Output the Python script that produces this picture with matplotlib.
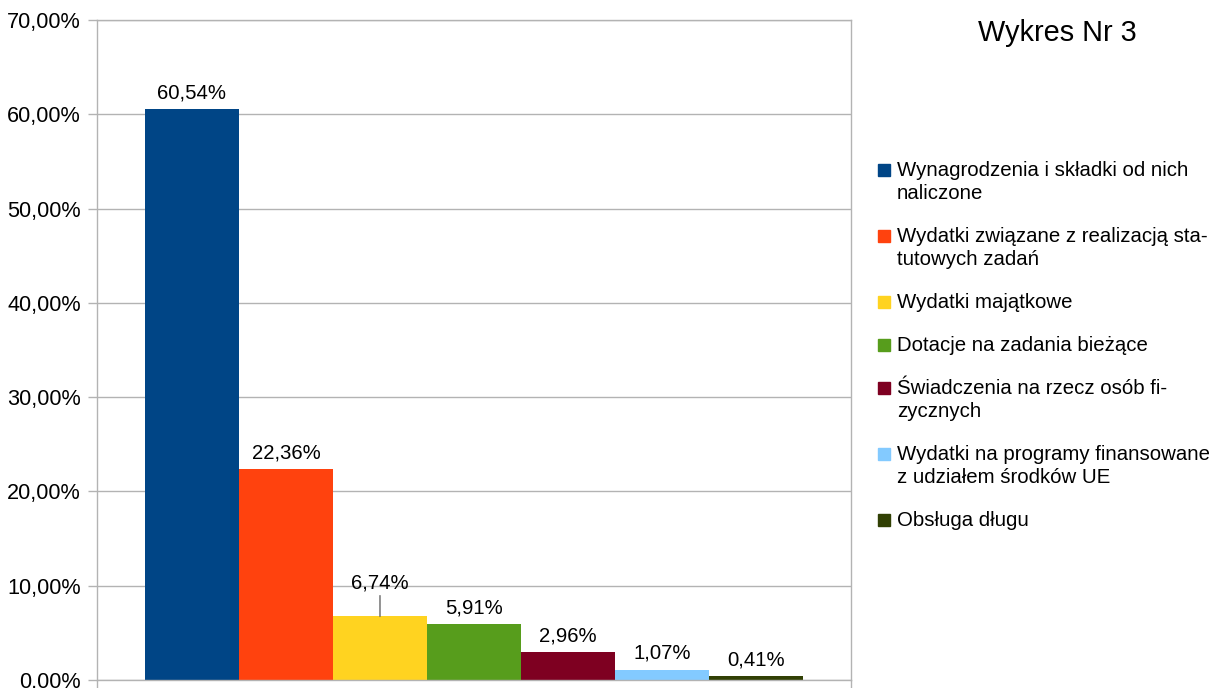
import numpy as np
import matplotlib
matplotlib.use("Agg")
import matplotlib.pyplot as plt
from matplotlib.patches import Rectangle

plt.rcParams['font.family'] = ['Liberation Sans', 'DejaVu Sans']

# data
labels = [
    "Wynagrodzenia i składki od nich\nnaliczone",
    "Wydatki związane z realizacją sta-\ntutowych zadań",
    "Wydatki majątkowe",
    "Dotacje na zadania bieżące",
    "Świadczenia na rzecz osób fi-\nzycznych",
    "Wydatki na programy finansowane\nz udziałem środków UE",
    "Obsługa długu",
]
values = [60.54, 22.36, 6.74, 5.91, 2.96, 1.07, 0.41]
colors = ["#004586", "#ff420e", "#ffd320", "#579d1c", "#7e0021", "#83caff", "#314004"]
yticks = np.arange(0, 71, 10)
title = "Wykres Nr 3"

W, H = 1209, 688
fig = plt.figure(figsize=(W / 100, H / 100), dpi=100)
ax = fig.add_axes([97 / W, 1 - 680 / H, (851 - 97) / W, (680 - 20) / H])

grid_c = "#b3b3b3"
x = np.arange(len(values))
ax.bar(x, values, width=1.0, color=colors, zorder=2)
ax.set_xlim(-1.01, len(values) - 1 + 1.01)
ax.set_ylim(0, 70)

ax.set_yticks(yticks)
ax.set_yticklabels([f"{v:.2f}%".replace(".", ",") for v in yticks], fontsize=15.6)
ax.yaxis.grid(True, color=grid_c, lw=1, zorder=0)
ax.set_xticks(ax.get_xlim())
ax.set_xticklabels([])
ax.tick_params(axis='y', length=6.5, width=1, color=grid_c, pad=5)
ax.tick_params(axis='x', length=6, width=1, color=grid_c)
for s in ax.spines.values():
    s.set_color(grid_c)
    s.set_linewidth(1)

# value labels
for i, v in enumerate(values):
    txt = f"{v:.2f}%".replace(".", ",")
    if i == 2:
        ax.annotate(txt, xy=(x[i], v), xytext=(0, 17), textcoords='offset points',
                    ha='center', va='bottom', fontsize=14.6,
                    arrowprops=dict(arrowstyle='-', color='#666666', lw=1,
                                    shrinkA=0, shrinkB=0, relpos=(0.5, 0)))
    else:
        ax.annotate(txt, xy=(x[i], v), xytext=(0, 5), textcoords='offset points',
                    ha='center', va='bottom', fontsize=14.6)

# title
fig.text(1057 / W, 1 - 33 / H, title, ha='center', va='center', fontsize=20.8)

# legend
y0, step, line_h = 170, 43, 23
extra = 0
for i, (lab, c) in enumerate(zip(labels, colors)):
    yc = y0 + step * i + line_h * extra
    fig.patches.append(Rectangle((878 / W, 1 - (yc + 6) / H), 12 / W, 12 / H,
                                 transform=fig.transFigure, color=c))
    for j, line in enumerate(lab.split("\n")):
        fig.text(897 / W, 1 - (yc + j * line_h + 6) / H, line, ha='left',
                 va='baseline', fontsize=14.7)
    extra += lab.count("\n")

fig.savefig("out.png", dpi=100)
